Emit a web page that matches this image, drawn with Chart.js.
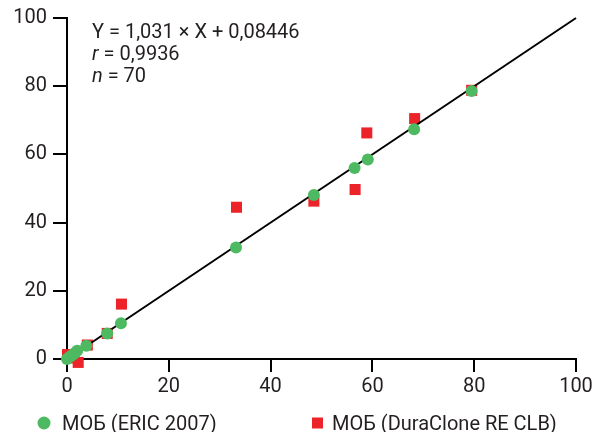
<!DOCTYPE html>
<html>
<head>
<meta charset="utf-8">
<script src="https://cdn.jsdelivr.net/npm/chart.js@4/dist/chart.umd.min.js"></script>
<style>
  html, body { margin: 0; padding: 0; background: #fff; }
  #wrap { width: 593px; height: 432px; position: relative; }
</style>
</head>
<body>
<div id="wrap"><canvas id="c" width="593" height="432"></canvas></div>
<script>
// ---- data ----
const ericLabel = "МОБ (ERIC 2007)";
const ericX = [0, 0.5, 1, 1.5, 2, 3.8, 7.9, 10.6, 33.2, 48.5, 56.5, 59.1, 68.2, 79.5];
const ericY = [0, 0.6, 1.1, 1.7, 2.4, 3.9, 7.5, 10.5, 32.7, 48.1, 56.0, 58.5, 67.4, 78.6];

const duraLabel = "МОБ (DuraClone RE CLB)";
const duraX = [0.1, 1.0, 2.2, 4.0, 7.9, 10.7, 33.3, 48.5, 56.6, 58.9, 68.3, 79.5];
const duraY = [1.3, 0.3, -1.0, 4.1, 7.5, 16.1, 44.5, 46.3, 49.7, 66.3, 70.5, 78.8];

const fitX = [0, 100];
const fitY = [0, 100];

const tickValues = [0, 20, 40, 60, 80, 100];
const annotationLines = [
  ["", "Y = 1,031 × X + 0,08446"],
  ["r", " = 0,9936"],
  ["n", " = 70"]
];

// ---- styles ----
const GREEN = '#4dba62';
const RED = '#ec2328';
const TEXT = '#231f20';
const FONT = 'Roboto';

const toPts = (xs, ys) => xs.map((x, i) => ({ x: x, y: ys[i] }));

const annotationPlugin = {
  id: 'annot',
  afterDraw(chart) {
    const ctx = chart.ctx;
    ctx.save();
    ctx.fillStyle = TEXT;
    ctx.textBaseline = 'alphabetic';
    ctx.textAlign = 'left';
    const x0 = 92;
    const baselines = [38, 60, 82];
    annotationLines.forEach((ln, i) => {
      let x = x0;
      if (ln[0]) {
        ctx.font = 'italic 20px ' + FONT;
        ctx.fillText(ln[0], x, baselines[i]);
        x += ctx.measureText(ln[0]).width;
      }
      ctx.font = '20px ' + FONT;
      ctx.fillText(ln[1], x, baselines[i]);
    });
    // legend
    const ly = 423;
    ctx.fillStyle = GREEN;
    ctx.beginPath();
    ctx.arc(44, ly, 6.5, 0, Math.PI * 2);
    ctx.fill();
    ctx.fillStyle = RED;
    ctx.fillRect(312, ly - 5.5, 11, 11);
    ctx.fillStyle = TEXT;
    ctx.font = '20px ' + FONT;
    ctx.textBaseline = 'alphabetic';
    ctx.fillText(ericLabel, 62, 430);
    ctx.fillText(duraLabel, 332, 430);
    ctx.restore();
  }
};

const axisCommon = {
  type: 'linear',
  min: 0,
  max: 100,
  afterBuildTicks(scale) { scale.ticks = tickValues.map(v => ({ value: v })); },
  grid: {
    display: true,
    drawOnChartArea: false,
    drawTicks: true,
    color: '#000',
    lineWidth: 2
  },
  border: { display: true, color: '#000', width: 2 },
};

new Chart(document.getElementById('c'), {
  type: 'scatter',
  data: {
    datasets: [
      {
        label: ericLabel,
        data: toPts(ericX, ericY),
        backgroundColor: GREEN,
        borderColor: GREEN,
        pointStyle: 'circle',
        pointRadius: 6,
        pointBorderWidth: 0,
        clip: false,
        order: 0
      },
      {
        type: 'line',
        label: 'fit',
        data: toPts(fitX, fitY),
        borderColor: '#000',
        borderWidth: 2,
        pointRadius: 0,
        fill: false,
        clip: false,
        order: 1
      },
      {
        label: duraLabel,
        data: toPts(duraX, duraY),
        backgroundColor: RED,
        borderColor: RED,
        pointStyle: 'rect',
        pointRadius: 7.8,
        pointBorderWidth: 0,
        clip: false,
        order: 2
      }
    ]
  },
  options: {
    responsive: false,
    animation: false,
    devicePixelRatio: 1,
    layout: { padding: { left: 0, right: 17, top: 18, bottom: 33 } },
    plugins: { legend: { display: false }, tooltip: { enabled: false } },
    scales: {
      x: Object.assign({}, axisCommon, {
        position: 'bottom',
        grid: Object.assign({}, axisCommon.grid, { tickLength: 13 }),
        ticks: { color: TEXT, font: { family: FONT, size: 20 }, padding: 3, maxRotation: 0 },
        afterFit(scale) { scale.height = 40; scale.paddingRight = 0; scale.paddingLeft = 0; }
      }),
      y: Object.assign({}, axisCommon, {
        position: 'left',
        grid: Object.assign({}, axisCommon.grid, { tickLength: 14 }),
        ticks: { color: TEXT, font: { family: FONT, size: 20 }, padding: 6 },
        afterFit(scale) { scale.width = 67; scale.paddingTop = 0; scale.paddingBottom = 0; }
      })
    }
  },
  plugins: [annotationPlugin]
});
</script>
</body>
</html>
